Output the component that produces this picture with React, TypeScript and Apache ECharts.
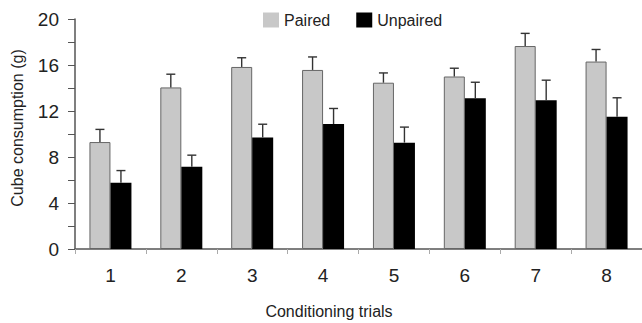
import React, { useEffect, useRef } from "react";
import * as echarts from "echarts";

const categories = ["1", "2", "3", "4", "5", "6", "7", "8"];
const paired = [9.3, 14.05, 15.83, 15.57, 14.46, 15.0, 17.65, 16.3];
const pairedErr = [1.1, 1.15, 0.8, 1.13, 0.85, 0.72, 1.1, 1.05];
const unpaired = [5.77, 7.16, 9.7, 10.87, 9.25, 13.1, 12.93, 11.5];
const unpairedErr = [1.05, 1.0, 1.15, 1.35, 1.35, 1.4, 1.75, 1.65];
const yTicks = [0, 4, 8, 12, 16, 20];

const BAR_W = 21;
const FONT = "'Liberation Sans', Arial, sans-serif";

function errSeries(values: number[], errs: number[], offset: number) {
  return {
    type: "custom",
    silent: true,
    z: 5,
    encode: { x: 0, y: 1 },
    data: values.map((v, i) => [i, v, errs[i]]),
    renderItem: (params: any, api: any) => {
      const idx = api.value(0);
      const v = api.value(1);
      const e = api.value(2);
      const p = api.coord([idx, v]);
      const t = api.coord([idx, v + e]);
      const x = p[0] + offset;
      const style = { stroke: "#333", lineWidth: 1.4 };
      return {
        type: "group",
        children: [
          { type: "line", shape: { x1: x, y1: p[1], x2: x, y2: t[1] }, style },
          { type: "line", shape: { x1: x - 4.5, y1: t[1], x2: x + 4.5, y2: t[1] }, style },
        ],
      };
    },
  };
}

export default function App() {
  const ref = useRef<HTMLDivElement>(null);
  useEffect(() => {
    if (!ref.current) return;
    const chart = echarts.init(ref.current, null, { renderer: "svg" });
    chart.setOption({
      animation: false,
      textStyle: { fontFamily: FONT },
      legend: {
        left: 258,
        top: 7,
        icon: "rect",
        itemWidth: 16,
        itemHeight: 15,
        itemGap: 26,
        textStyle: { fontSize: 16, color: "#222", fontFamily: FONT },
        data: [
          { name: "Paired", itemStyle: { color: "#c8c8c8", borderWidth: 0 } },
          { name: "Unpaired", itemStyle: { color: "#000", borderWidth: 0 } },
        ],
      },
      grid: { left: 75, right: 0, top: 19, bottom: 74 },
      xAxis: {
        type: "category",
        data: categories,
        axisLine: { lineStyle: { color: "#555", width: 1.5 } },
        axisTick: { show: true, length: 5, lineStyle: { color: "#aaa" } },
        axisLabel: { fontSize: 19, color: "#222", margin: 17, fontFamily: FONT },
      },
      yAxis: {
        type: "value",
        min: 0,
        max: 20,
        interval: 4,
        splitLine: { show: false },
        axisLine: { show: true, lineStyle: { color: "#555", width: 1.5 } },
        axisTick: { show: true, length: 7, lineStyle: { color: "#555" } },
        minorTick: { show: true, splitNumber: 2, length: 7, lineStyle: { color: "#555" } },
        axisLabel: {
          fontSize: 19,
          color: "#222",
          margin: 16,
          fontFamily: FONT,
          formatter: (v: number) => (yTicks.includes(v) ? String(v) : ""),
        },
      },
      graphic: [
        {
          type: "text",
          x: 329,
          y: 311,
          style: {
            text: "Conditioning trials",
            fontSize: 16,
            fill: "#222",
            fontFamily: FONT,
            textAlign: "center",
            textVerticalAlign: "middle",
          },
        },
        {
          type: "text",
          x: 17,
          y: 128,
          rotation: Math.PI / 2,
          style: {
            text: "Cube consumption (g)",
            fontSize: 16,
            fill: "#222",
            fontFamily: FONT,
            textAlign: "center",
            textVerticalAlign: "middle",
          },
        },
      ],
      series: [
        {
          name: "Paired",
          type: "bar",
          data: paired,
          barWidth: BAR_W,
          barGap: "0%",
          itemStyle: { color: "#c8c8c8", borderColor: "#666", borderWidth: 1 },
        },
        {
          name: "Unpaired",
          type: "bar",
          data: unpaired,
          barWidth: BAR_W,
          barGap: "0%",
          itemStyle: { color: "#000" },
        },
        errSeries(paired, pairedErr, -BAR_W / 2),
        errSeries(unpaired, unpairedErr, BAR_W / 2),
      ],
    });
    return () => chart.dispose();
  }, []);
  return <div ref={ref} style={{ width: 642, height: 323, position: "absolute", left: 0, top: 0 }} />;
}
